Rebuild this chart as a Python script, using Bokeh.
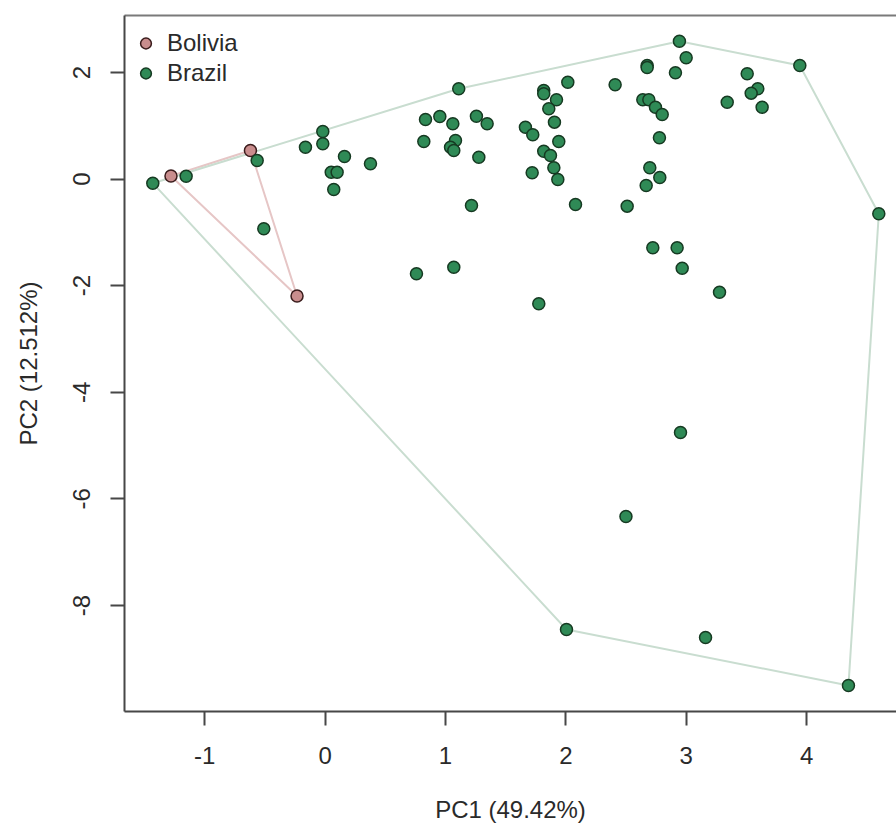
from bokeh.plotting import figure
from bokeh.models import Range1d, LinearAxis, FixedTicker, Legend
from bokeh.embed import file_html
from bokeh.resources import INLINE

# ---------------- data ----------------
bolivia_pc1 = [-1.280, -0.620, -0.233]
bolivia_pc2 = [0.058, 0.537, -2.193]

brazil_pc1 = [-1.431, -1.154, -0.564, -0.509, -0.163, -0.019, -0.019, 0.161, 0.377, 0.051,
              0.100, 0.072, 1.110, 0.834, 0.953, 1.061, 1.257, 1.346, 0.820, 1.083,
              1.042, 1.069, 1.277, 1.216, 2.943, 2.999, 2.675, 2.675, 2.910, 3.943,
              3.506, 3.594, 3.539, 3.340, 3.630, 2.409, 2.016, 1.816, 1.816, 1.922,
              1.858, 1.905, 1.664, 1.725, 1.941, 1.816, 1.872, 1.900, 1.933, 1.720,
              2.080, 2.639, 2.689, 2.744, 2.800, 2.777, 2.697, 2.780, 2.667, 2.509,
              4.599, 2.722, 2.924, 0.759, 1.069, 1.775, 2.966, 3.276, 2.952, 2.499,
              2.005, 3.160, 4.347]
brazil_pc2 = [-0.077, 0.054, 0.349, -0.932, 0.598, 0.893, 0.662, 0.424, 0.287, 0.129,
              0.129, -0.195, 1.694, 1.118, 1.174, 1.038, 1.180, 1.038, 0.705, 0.724,
              0.598, 0.537, 0.411, -0.495, 2.587, 2.276, 2.131, 2.094, 1.994, 2.131,
              1.976, 1.694, 1.612, 1.443, 1.349, 1.769, 1.818, 1.662, 1.600, 1.488,
              1.319, 1.068, 0.974, 0.831, 0.705, 0.523, 0.443, 0.212, -0.008, 0.118,
              -0.477, 1.488, 1.488, 1.349, 1.212, 0.775, 0.212, 0.030, -0.120, -0.508,
              -0.651, -1.289, -1.289, -1.777, -1.653, -2.340, -1.672, -2.122, -4.754, -6.330,
              -8.450, -8.601, -9.501]

x_ticks = [-1, 0, 1, 2, 3, 4]
y_ticks = [-8, -6, -4, -2, 0, 2]
x_title = "PC1 (49.42%)"
y_title = "PC2 (12.512%)"
group_names = ["Bolivia", "Brazil"]

# ---------------- styles ----------------
FONT = "Liberation Sans"
TXT = "#2a2a2a"
BOL_FILL, BOL_LINE, BOL_HULL = "#c98d8d", "#3a1c1c", "#e6c6c6"
BRA_FILL, BRA_LINE, BRA_HULL = "#2f8a56", "#163a22", "#c9ddd0"


def convex_hull(xs, ys):
    pts = sorted(set(zip(xs, ys)))
    if len(pts) < 3:
        return pts

    def cross(o, a, b):
        return (a[0] - o[0]) * (b[1] - o[1]) - (a[1] - o[1]) * (b[0] - o[0])

    lower, upper = [], []
    for pt in pts:
        while len(lower) >= 2 and cross(lower[-2], lower[-1], pt) <= 0:
            lower.pop()
        lower.append(pt)
    for pt in reversed(pts):
        while len(upper) >= 2 and cross(upper[-2], upper[-1], pt) <= 0:
            upper.pop()
        upper.append(pt)
    hull = lower[:-1] + upper[:-1]
    hull.append(hull[0])
    return hull


p = figure(width=896, height=825,
           x_range=Range1d(-1.666, 4.746), y_range=Range1d(-9.989, 3.069),
           x_axis_type=None, y_axis_type=None,
           output_backend="svg", toolbar_location=None,
           min_border_left=124, min_border_right=0, min_border_top=15, min_border_bottom=114)
p.outline_line_color = None
p.xgrid.visible = False
p.ygrid.visible = False
p.background_fill_color = "white"
p.border_fill_color = "white"

# hulls
for xs, ys, col in [(bolivia_pc1, bolivia_pc2, BOL_HULL), (brazil_pc1, brazil_pc2, BRA_HULL)]:
    h = convex_hull(xs, ys)
    p.line([q[0] for q in h], [q[1] for q in h], line_color=col, line_width=2)

r_bol = p.scatter(bolivia_pc1, bolivia_pc2, size=12, fill_color=BOL_FILL,
                  line_color=BOL_LINE, line_width=1.5)
r_bra = p.scatter(brazil_pc1, brazil_pc2, size=12, fill_color=BRA_FILL,
                  line_color=BRA_LINE, line_width=1.5)


def style_axis(ax, ticks, title, vertical=False):
    ax.ticker = FixedTicker(ticks=ticks)
    ax.major_label_overrides = {t: str(t) for t in ticks}
    ax.major_tick_out = 14
    ax.major_tick_in = 0
    ax.minor_tick_out = 0
    ax.minor_tick_in = 0
    ax.axis_line_color = "#474747"
    ax.axis_line_width = 2
    ax.major_tick_line_color = "#474747"
    ax.major_tick_line_width = 2
    ax.major_label_text_font = FONT
    ax.major_label_text_font_size = "24px"
    ax.major_label_text_color = TXT
    ax.axis_label = title
    ax.axis_label_text_font = FONT
    ax.axis_label_text_font_size = "24px"
    ax.axis_label_text_font_style = "normal"
    ax.axis_label_text_color = TXT
    if vertical:
        ax.major_label_orientation = "vertical"
        ax.major_label_standoff = 20
        ax.axis_label_standoff = 29
    else:
        ax.major_label_standoff = 21
        ax.axis_label_standoff = 29


xaxis = LinearAxis()
style_axis(xaxis, x_ticks, x_title)
p.add_layout(xaxis, "below")

yaxis = LinearAxis()
style_axis(yaxis, y_ticks, y_title, vertical=True)
p.add_layout(yaxis, "left")

top = LinearAxis(ticker=FixedTicker(ticks=[]), major_tick_out=0, major_tick_in=0,
                 minor_tick_out=0, minor_tick_in=0, major_label_standoff=0,
                 major_label_text_font_size="0px", axis_line_color="#7a7a7a",
                 axis_line_width=2)
p.add_layout(top, "above")

legend = Legend(items=[(group_names[0], [r_bol]), (group_names[1], [r_bra])],
                location=(8, 624), orientation="vertical",
                border_line_color=None, background_fill_alpha=0,
                padding=0, margin=0, spacing=2,
                glyph_width=27, glyph_height=28, label_height=28, label_standoff=8,
                label_text_font=FONT, label_text_font_size="24px", label_text_color=TXT)
p.add_layout(legend)

open("out.html", "w").write(file_html(p, INLINE))
